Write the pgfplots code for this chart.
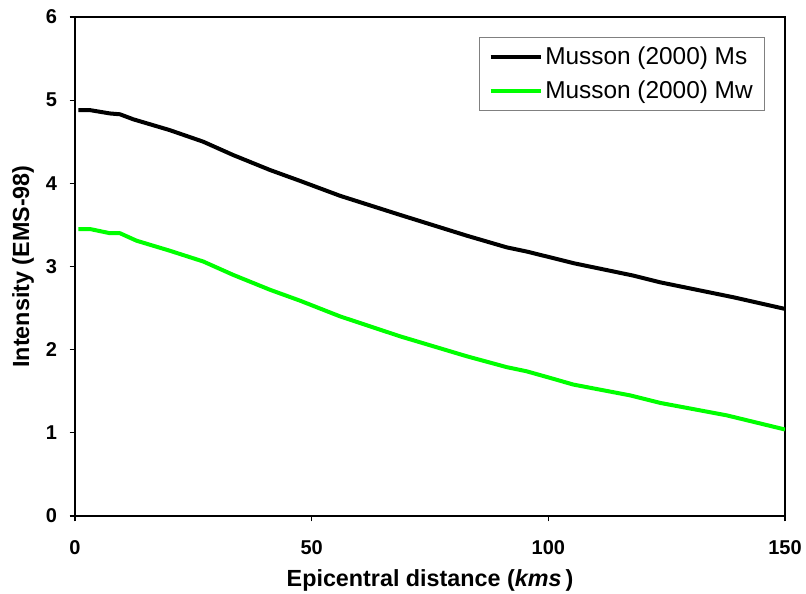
\documentclass[border=0pt]{standalone}
\usepackage{pgfplots}
\pgfplotsset{compat=1.18}
\usepackage{fontspec}
\setmainfont{Liberation Sans}
\definecolor{lgreen}{RGB}{0,255,0}
\begin{document}
\begin{tikzpicture}
\begin{axis}[
  scale only axis,
  width=532.5pt, height=374.25pt,
  xmin=0, xmax=150, ymin=0, ymax=6,
  xtick={0,50,100,150}, ytick={0,1,2,3,4,5,6},
  tick align=outside, tick pos=left,
  major tick length=4pt,
  axis line style={line width=1.1pt},
  every tick/.style={black, line width=0.8pt},
  /pgf/number format/assume math mode=true,
  ticklabel style={font=\fontsize{15}{18}\selectfont\bfseries},
  xticklabel style={yshift=-11pt},
  yticklabel style={xshift=-6pt},
  xlabel={Epicentral distance (\textit{kms}\,)},
  ylabel={Intensity (EMS-98)},
  label style={font=\fontsize{17.5}{20}\selectfont\bfseries},
  xlabel style={yshift=-4pt},
  ylabel style={yshift=2pt},
  legend style={at={(rel axis cs:0.972,0.96)}, anchor=north east,
    draw=gray, line width=0.6pt, font=\fontsize{18.3}{21}\selectfont,
    inner xsep=7pt, inner ysep=5pt, row sep=7pt,
    legend cell align=left},
  legend image code/.code={\draw[#1, line width=3pt] (0pt,0pt) -- (37.5pt,0pt);},
]
\addplot[black, line width=3pt, line join=round] coordinates {
(0.7,4.88) (3.2,4.88) (7.4,4.84) (9.5,4.83) (12.3,4.77) (20,4.64) (27.1,4.50)
(33.4,4.34) (41.2,4.16) (47.5,4.03) (56,3.85) (68.7,3.62) (82.8,3.37) (91.2,3.23)
(95.4,3.18) (100.4,3.11) (105.3,3.04) (118,2.89) (123.6,2.81) (139.1,2.63) (150,2.49)};
\addlegendentry{Musson (2000) Ms}
\addplot[lgreen, line width=3pt, line join=round] coordinates {
(0.7,3.45) (3.2,3.45) (7.4,3.40) (9.5,3.40) (13,3.31) (20,3.19) (27.1,3.06)
(33.4,2.90) (41.2,2.72) (47.5,2.59) (56,2.40) (68.7,2.16) (82.8,1.92) (91.2,1.79)
(95.4,1.74) (100.4,1.66) (105.3,1.58) (117.3,1.45) (123.6,1.36) (137.7,1.21) (150,1.04)};
\addlegendentry{Musson (2000) Mw}
\coordinate (bl) at (rel axis cs:0,0);
\coordinate (tr) at (rel axis cs:1,1);
\end{axis}
\pgfresetboundingbox
\path ([xshift=-56.25pt,yshift=-58.5pt]bl) rectangle ([xshift=15.75pt,yshift=12.75pt]tr);
\end{tikzpicture}
\end{document}
